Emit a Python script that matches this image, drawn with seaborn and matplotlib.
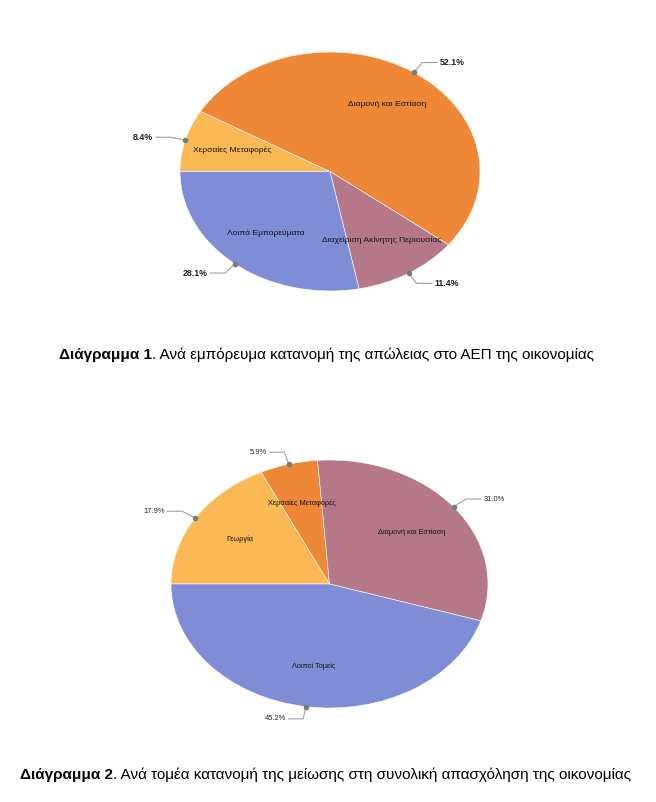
import matplotlib
matplotlib.use("Agg")
import matplotlib.pyplot as plt
import seaborn as sns
import numpy as np

sns.set_theme(style="white")
plt.rcParams['font.family'] = ['Liberation Sans', 'DejaVu Sans']

# ---- data ----
labels1 = ["Χερσαίες Μεταφορές", "Διαμονή και Εστίαση",
           "Διαχείριση Ακίνητης Περιουσίας", "Λοιπά Εμπορεύματα"]
values1 = [8.4, 52.1, 11.4, 28.1]
colors1 = ["#FAB954", "#EE8836", "#B57889", "#7F8DD6"]
# label positions inside slices (fraction of radius, ellipse coordinates)
lab1_pos = [(-0.653, 0.18), (0.38, 0.565), (0.347, -0.573), (-0.427, -0.515)]

labels2 = ["Γεωργία", "Χερσαίες Μεταφορές", "Διαμονή και Εστίαση", "Λοιποί Τομείς"]
values2 = [17.9, 5.9, 31.0, 45.2]
colors2 = ["#FAB954", "#EE8836", "#B57889", "#7F8DD6"]
lab2_pos = [(-0.565, 0.362), (-0.175, 0.65), (0.518, 0.416), (-0.102, -0.66)]

caption1_bold = "Διάγραμμα 1"
caption1_rest = ". Ανά εμπόρευμα κατανομή της απώλειας στο ΑΕΠ της οικονομίας"
caption2_bold = "Διάγραμμα 2"
caption2_rest = ". Ανά τομέα κατανομή της μείωσης στη συνολική απασχόληση της οικονομίας"

W, H = 656, 802
fig = plt.figure(figsize=(W / 100, H / 100), dpi=100)
fig.patch.set_facecolor("white")


def draw_pie(rect_px, values, labels, colors, lab_pos, fs_lab, fs_pct, pct_weight):
    x0, y0, x1, y1 = rect_px  # pixel box of the ellipse (top-left origin)
    ax = fig.add_axes([x0 / W, 1 - y1 / H, (x1 - x0) / W, (y1 - y0) / H])
    wedges, _ = ax.pie(values, colors=colors, startangle=180, counterclock=False,
                       radius=1, wedgeprops=dict(edgecolor="white", linewidth=0.4))
    ax.set_aspect("auto")
    ax.set_xlim(-1, 1)
    ax.set_ylim(-1, 1)
    ax.axis("off")
    rx_px = (x1 - x0) / 2
    seg = 15 / rx_px
    gap = 2.5 / rx_px
    for w, lab, (lx, ly), v in zip(wedges, labels, lab_pos, values):
        ax.text(lx, ly, lab, ha="center", va="center", fontsize=fs_lab, color="#111111")
        mid = np.deg2rad((w.theta1 + w.theta2) / 2)
        dx, dy = np.cos(mid), np.sin(mid)
        ex, ey = 1.1 * dx, 1.1 * dy
        side = 1 if dx >= 0 else -1
        hx = ex + side * seg
        ax.plot([dx, ex, hx], [dy, ey, ey], color="#a0a0a0", lw=0.8, clip_on=False,
                solid_capstyle="round")
        ax.plot([dx], [dy], "o", color="#7a7a7a", ms=3.0, clip_on=False)
        ax.text(hx + side * gap, ey, f"{v:.1f}%", ha="left" if side > 0 else "right",
                va="center", fontsize=fs_pct, fontweight=pct_weight, color="#222222")
    return ax


draw_pie((180, 52, 480, 291), values1, labels1, colors1, lab1_pos, 6.1, 6.4, "bold")
draw_pie((171, 460, 488, 708), values2, labels2, colors2, lab2_pos, 5.3, 5.4, "normal")


def caption(x_px, y_px, bold, rest, fs):
    t = fig.text(x_px / W, 1 - y_px / H, bold, fontsize=fs, fontweight="bold",
                 ha="left", va="center", color="black")
    fig.canvas.draw()
    bb = t.get_window_extent()
    fig.text(bb.x1 / W, 1 - y_px / H, rest, fontsize=fs, ha="left", va="center",
             color="black")


caption(59, 355, caption1_bold, caption1_rest, 11.0)
caption(20, 775, caption2_bold, caption2_rest, 11.0)

fig.savefig("out.png", dpi=100, facecolor="white")
